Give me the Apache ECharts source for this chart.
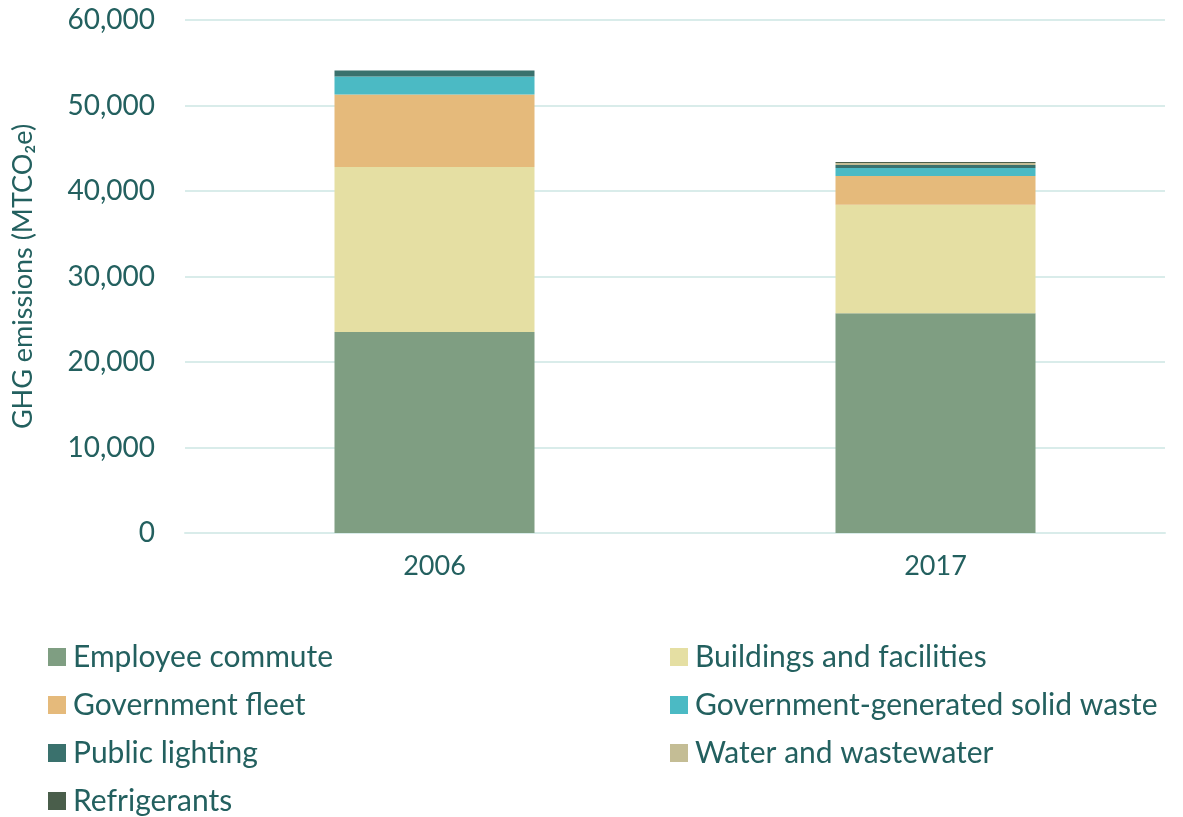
<!DOCTYPE html>
<html><head><meta charset="utf-8">
<script src="https://cdn.jsdelivr.net/npm/echarts@6/dist/echarts.min.js"></script>
<style>html,body{margin:0;padding:0;background:#fff}#c{width:1183px;height:817px}</style>
</head><body><div id="c"></div>
<script>
const categories = ['2006', '2017'];
const seriesNames = ['Employee commute','Buildings and facilities','Government fleet','Government-generated solid waste','Public lighting','Water and wastewater','Refrigerants'];
const employeeCommute = [23500, 25700];
const buildings = [19300, 12700];
const govFleet = [8500, 3350];
const solidWaste = [2100, 950];
const publicLighting = [700, 350];
const water = [0, 230];
const refrigerants = [0, 120];
const yTicks = [0, 10000, 20000, 30000, 40000, 50000, 60000];

const colors = ['#7f9e82','#e5dfa3','#e5ba7b','#4bbac4','#3a716d','#c4bd95','#4a5e4b'];
const values = [employeeCommute, buildings, govFleet, solidWaste, publicLighting, water, refrigerants];
const textColor = '#23605f';
const font = 'Lato, "Open Sans", sans-serif';

const chart = echarts.init(document.getElementById('c'));
const legendCommon = {
  orient: 'vertical', itemWidth: 18, itemHeight: 18, itemGap: 18, icon: 'rect', height: 220,
  textStyle: {color: textColor, fontSize: 30, fontFamily: font, padding:[0,0,0,2]},
  selectedMode: false
};
const yMin = yTicks[0], yMax = yTicks[yTicks.length-1];
chart.setOption({
  animation: false,
  grid: [
    {left: 184, width: 1002, top: 20, bottom: 284, outerBoundsMode: 'none', containLabel: false},
    {left: 185, right: 18, top: 20, bottom: 284, outerBoundsMode: 'none', containLabel: false}
  ],
  legend: [
    Object.assign({left: 43, top: 637, data: [seriesNames[0], seriesNames[2], seriesNames[4], seriesNames[6]]}, legendCommon),
    Object.assign({left: 665, top: 637, data: [seriesNames[1], seriesNames[3], seriesNames[5]]}, legendCommon)
  ],
  xAxis: [{
    gridIndex: 0, type: 'category', data: categories,
    axisLine: {show: false}, axisTick: {show: false},
    axisLabel: {color: textColor, fontSize: 27, fontFamily: font, margin: 20}
  }, {
    gridIndex: 1, type: 'category', data: categories,
    axisLine: {lineStyle: {color: '#d9ecea', width: 2}},
    axisTick: {show: false}, axisLabel: {show: false}
  }],
  yAxis: [{
    gridIndex: 0, type: 'value', min: yMin, max: yMax, interval: 10000, show: false
  }, {
    gridIndex: 1, type: 'value', min: yMin, max: yMax, interval: 10000,
    name: 'GHG emissions (MTCO₂e)', nameLocation: 'middle', nameGap: 148, nameRotate: 90,
    nameTextStyle: {color: textColor, fontSize: 27, fontFamily: font},
    axisLine: {show: false}, axisTick: {show: false},
    splitLine: {lineStyle: {color: '#d9ecea', width: 2}},
    axisLabel: {color: textColor, fontSize: 28, fontFamily: font, margin: 30,
      formatter: v => v.toLocaleString('en-US')}
  }],
  series: seriesNames.map((n, i) => ({
    name: n, type: 'bar', stack: 'total', data: values[i], barWidth: 200,
    xAxisIndex: 0, yAxisIndex: 0, z: 3,
    itemStyle: {color: colors[i]}
  }))
});
</script></body></html>
